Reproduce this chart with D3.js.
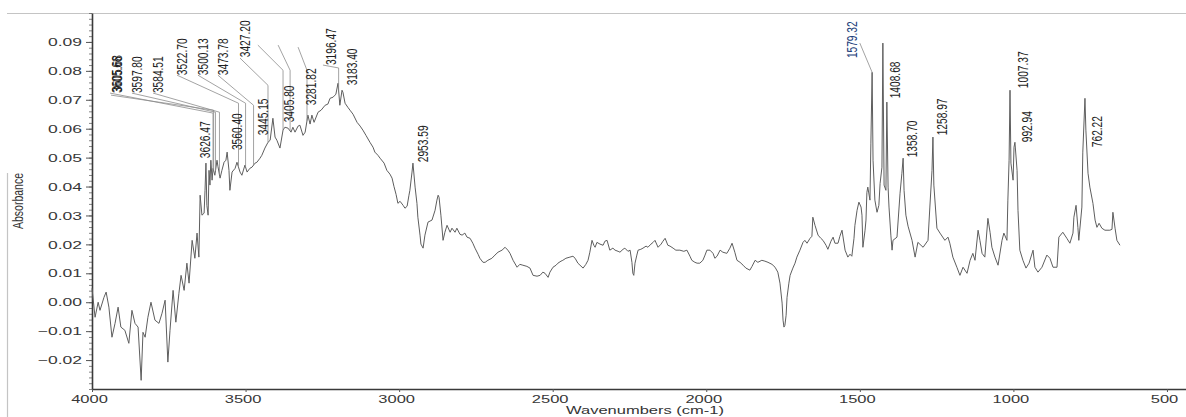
<!DOCTYPE html>
<html>
<head>
<meta charset="utf-8">
<script src="https://cdn.jsdelivr.net/npm/d3@7"></script>
<style>
  html, body { margin: 0; padding: 0; background: #fff; }
  svg { display: block; }
</style>
</head>
<body>
<svg id="chart" width="1186" height="417"></svg>
<script>
// FTIR absorbance spectrum: [wavenumber (cm-1), absorbance]
const spectrum = [
  [4000,0.0048],[3990,-0.0052],[3980,0.0000],[3974,-0.0028],[3961,0.0017],[3954,0.0035],[3945,-0.0017],[3935,-0.0121],[3925,-0.0073],[3915,-0.0017],
  [3906,-0.0086],[3893,-0.0097],[3880,-0.0142],[3870,-0.0028],[3860,-0.0073],[3850,-0.0086],[3840,-0.0270],[3834,-0.0104],[3827,-0.0121],[3818,-0.0052],
  [3808,0.0000],[3795,-0.0062],[3782,-0.0073],[3772,-0.0038],[3762,0.0007],[3753,-0.0207],[3746,-0.0097],[3736,0.0041],[3727,-0.0069],[3717,0.0031],
  [3710,0.0093],[3700,0.0041],[3691,0.0135],[3684,0.0066],[3674,0.0214],[3665,0.0152],[3658,0.0239],[3652,0.0156],[3648,0.0370],[3642,0.0301],
  [3635,0.0308],[3632,0.0387],[3629,0.0481],[3626,0.0335],[3622,0.0301],[3619,0.0456],[3616,0.0405],[3613,0.0491],[3609,0.0422],[3606,0.0463],
  [3600,0.0439],[3593,0.0491],[3590,0.0470],[3583,0.0429],[3577,0.0456],[3570,0.0484],[3564,0.0491],[3560,0.0519],[3554,0.0456],[3551,0.0387],
  [3544,0.0450],[3534,0.0463],[3528,0.0484],[3518,0.0450],[3512,0.0439],[3502,0.0474],[3495,0.0450],[3486,0.0463],[3479,0.0467],[3469,0.0481],
  [3463,0.0484],[3453,0.0498],[3447,0.0508],[3437,0.0533],[3427,0.0553],[3420,0.0560],[3411,0.0636],[3404,0.0571],[3398,0.0560],[3388,0.0533],
  [3378,0.0595],[3372,0.0605],[3362,0.0602],[3352,0.0588],[3346,0.0605],[3339,0.0588],[3329,0.0609],[3323,0.0612],[3313,0.0577],[3306,0.0588],
  [3297,0.0647],[3290,0.0616],[3284,0.0647],[3277,0.0622],[3264,0.0657],[3254,0.0664],[3241,0.0681],[3232,0.0685],[3225,0.0705],[3215,0.0709],
  [3209,0.0716],[3206,0.0719],[3199,0.0757],[3193,0.0681],[3186,0.0733],[3183,0.0726],[3176,0.0688],[3167,0.0674],[3160,0.0664],[3150,0.0650],
  [3137,0.0622],[3127,0.0609],[3118,0.0595],[3108,0.0577],[3095,0.0553],[3085,0.0536],[3079,0.0519],[3069,0.0508],[3062,0.0498],[3049,0.0481],
  [3040,0.0456],[3030,0.0443],[3023,0.0429],[3017,0.0401],[3010,0.0373],[3004,0.0342],[2997,0.0349],[2987,0.0335],[2981,0.0325],[2974,0.0332],
  [2968,0.0370],[2965,0.0387],[2958,0.0450],[2955,0.0481],[2948,0.0398],[2942,0.0342],[2939,0.0294],[2932,0.0232],[2929,0.0201],[2922,0.0187],
  [2916,0.0232],[2906,0.0277],[2893,0.0284],[2883,0.0318],[2877,0.0353],[2873,0.0370],[2870,0.0363],[2864,0.0301],[2857,0.0214],[2851,0.0242],
  [2844,0.0266],[2834,0.0242],[2828,0.0256],[2818,0.0242],[2812,0.0256],[2802,0.0235],[2795,0.0232],[2786,0.0239],[2779,0.0225],[2769,0.0221],
  [2760,0.0204],[2753,0.0187],[2743,0.0166],[2737,0.0152],[2727,0.0138],[2720,0.0138],[2711,0.0145],[2698,0.0152],[2688,0.0163],[2678,0.0173],
  [2665,0.0180],[2655,0.0190],[2646,0.0180],[2639,0.0169],[2629,0.0145],[2616,0.0121],[2607,0.0131],[2597,0.0128],[2584,0.0124],[2574,0.0118],
  [2564,0.0093],[2551,0.0090],[2541,0.0093],[2532,0.0104],[2525,0.0100],[2515,0.0086],[2509,0.0104],[2499,0.0121],[2489,0.0128],[2483,0.0135],
  [2473,0.0142],[2467,0.0145],[2457,0.0152],[2444,0.0156],[2434,0.0159],[2427,0.0152],[2418,0.0135],[2411,0.0128],[2401,0.0118],[2392,0.0131],
  [2385,0.0145],[2379,0.0173],[2372,0.0214],[2366,0.0197],[2362,0.0190],[2356,0.0207],[2346,0.0201],[2336,0.0197],[2330,0.0211],[2323,0.0214],
  [2314,0.0180],[2304,0.0187],[2297,0.0180],[2287,0.0176],[2281,0.0173],[2271,0.0183],[2265,0.0187],[2255,0.0176],[2248,0.0180],[2242,0.0138],
  [2239,0.0100],[2236,0.0093],[2232,0.0135],[2226,0.0163],[2222,0.0180],[2213,0.0183],[2206,0.0187],[2196,0.0194],[2190,0.0190],[2180,0.0201],
  [2173,0.0207],[2167,0.0214],[2157,0.0190],[2147,0.0201],[2141,0.0211],[2134,0.0221],[2125,0.0197],[2118,0.0194],[2108,0.0187],[2099,0.0180],
  [2086,0.0180],[2073,0.0176],[2063,0.0180],[2053,0.0159],[2047,0.0145],[2037,0.0138],[2030,0.0135],[2021,0.0135],[2011,0.0145],[2004,0.0163],
  [1998,0.0180],[1988,0.0180],[1978,0.0169],[1972,0.0152],[1965,0.0159],[1955,0.0180],[1946,0.0173],[1933,0.0169],[1923,0.0187],[1916,0.0204],
  [1907,0.0173],[1900,0.0145],[1890,0.0138],[1880,0.0128],[1871,0.0118],[1858,0.0111],[1851,0.0124],[1841,0.0145],[1832,0.0138],[1819,0.0145],
  [1809,0.0142],[1799,0.0138],[1786,0.0131],[1776,0.0121],[1767,0.0104],[1760,0.0066],[1753,-0.0003],[1750,-0.0062],[1747,-0.0086],[1744,-0.0080],
  [1740,-0.0045],[1737,0.0017],[1731,0.0066],[1727,0.0093],[1718,0.0118],[1711,0.0135],[1705,0.0156],[1695,0.0180],[1685,0.0207],[1679,0.0214],
  [1672,0.0204],[1662,0.0221],[1656,0.0228],[1653,0.0294],[1646,0.0266],[1636,0.0232],[1627,0.0221],[1620,0.0214],[1610,0.0197],[1604,0.0183],
  [1594,0.0211],[1587,0.0225],[1581,0.0204],[1571,0.0204],[1565,0.0228],[1558,0.0249],[1548,0.0180],[1539,0.0156],[1532,0.0166],[1526,0.0159],
  [1519,0.0221],[1516,0.0266],[1509,0.0318],[1503,0.0346],[1496,0.0329],[1493,0.0301],[1490,0.0190],[1483,0.0249],[1480,0.0284],[1477,0.0380],
  [1474,0.0398],[1467,0.0353],[1464,0.0550],[1460,0.0795],[1457,0.0491],[1451,0.0353],[1444,0.0311],[1438,0.0335],[1434,0.0411],[1428,0.0467],
  [1425,0.0896],[1421,0.0405],[1415,0.0387],[1412,0.0692],[1408,0.0398],[1405,0.0329],[1399,0.0232],[1395,0.0180],[1392,0.0214],[1379,0.0225],
  [1369,0.0377],[1363,0.0446],[1359,0.0498],[1356,0.0387],[1350,0.0301],[1343,0.0263],[1330,0.0214],[1320,0.0156],[1311,0.0207],[1294,0.0190],
  [1278,0.0214],[1272,0.0329],[1265,0.0456],[1262,0.0571],[1259,0.0405],[1249,0.0256],[1239,0.0239],[1223,0.0214],[1213,0.0225],[1207,0.0204],
  [1197,0.0156],[1184,0.0121],[1174,0.0093],[1164,0.0121],[1151,0.0100],[1141,0.0145],[1132,0.0169],[1125,0.0145],[1115,0.0249],[1109,0.0214],
  [1102,0.0169],[1093,0.0156],[1083,0.0290],[1076,0.0242],[1070,0.0190],[1060,0.0156],[1050,0.0128],[1037,0.0214],[1031,0.0239],[1021,0.0214],
  [1018,0.0353],[1014,0.0491],[1011,0.0733],[1008,0.0481],[1001,0.0422],[998,0.0536],[995,0.0553],[988,0.0456],[985,0.0318],[979,0.0180],
  [969,0.0145],[959,0.0118],[949,0.0135],[936,0.0180],[930,0.0121],[920,0.0104],[907,0.0121],[891,0.0163],[881,0.0152],[871,0.0121],
  [858,0.0121],[852,0.0225],[839,0.0242],[826,0.0221],[816,0.0204],[806,0.0239],[803,0.0294],[796,0.0335],[790,0.0259],[787,0.0214],
  [777,0.0329],[774,0.0519],[767,0.0705],[764,0.0595],[757,0.0446],[751,0.0398],[741,0.0342],[734,0.0284],[728,0.0259],[721,0.0273],
  [712,0.0256],[702,0.0249],[686,0.0249],[679,0.0252],[676,0.0311],[669,0.0256],[663,0.0214],[653,0.0197]
];

// Axis ticks
const xTickValues = [4000, 3500, 3000, 2500, 2000, 1500, 1000, 500];
const yTickValues = [-0.02, -0.01, 0.00, 0.01, 0.02, 0.03, 0.04, 0.05, 0.06, 0.07, 0.08, 0.09];

// Peak labels: text, and the wavenumber / absorbance where the text starts
const peakText   = ["3605.66","3605.68","3597.80","3584.51","3522.70","3500.13","3473.78","3427.20",
                    "3626.47","3560.40","3445.15","3405.80","3281.82","3196.47","3183.40","2953.59",
                    "1579.32","1408.68","1358.70","1258.97","1007.37","992.94","762.22"];
const peakTextWn = [3919, 3919, 3853, 3785, 3707, 3639, 3573, 3502,
                    3632, 3528, 3443, 3359, 3287, 3222, 3153, 2922,
                    1526, 1386, 1330, 1233, 969, 956, 728];
const peakTextAbs = [0.0723, 0.0727, 0.0723, 0.0723, 0.0785, 0.0785, 0.0785, 0.0847,
                     0.0498, 0.0526, 0.0577, 0.0622, 0.0681, 0.0820, 0.0750, 0.0484,
                     0.0844, 0.0705, 0.0501, 0.0577, 0.0740, 0.0553, 0.0536];

// Leader lines: start point, knee height, and the peak they drop onto
const leaderStartWn  = [3941, 3938, 3870, 3801, 3723, 3655, 3590, 3518, 3460, 3394, 3329, 3248, 1500];
const leaderStartAbs = [0.0723, 0.0716, 0.0723, 0.0723, 0.0785, 0.0785, 0.0785, 0.0844, 0.0889, 0.0889, 0.0882, 0.0820, 0.0896];
const leaderKneeAbs  = [0.0654, 0.0664, 0.0657, 0.0657, 0.0688, 0.0688, 0.0681, 0.0750, 0.0802, 0.0802, 0.0802, 0.0810, 0.0795];
const leaderPeakWn   = [3606, 3604, 3598, 3585, 3523, 3500, 3474, 3427, 3378, 3355, 3300, 3197, 1460];

const svg = d3.select("#chart");
const FONT = "'Liberation Sans', Arial, Helvetica, sans-serif";

const x = d3.scaleLinear().domain([4000, 438]).range([92, 1186]);
const y = d3.scaleLinear().domain([-0.03, 0.1]).range([389, 13]);

// outer frame lines
svg.append("line").attr("x1", 7).attr("x2", 1186).attr("y1", 13.5).attr("y2", 13.5)
  .attr("stroke", "#c4c4c4").attr("stroke-width", 1.2);
svg.append("line").attr("x1", 7.5).attr("x2", 7.5).attr("y1", 173).attr("y2", 417)
  .attr("stroke", "#c4c4c4").attr("stroke-width", 1.2);

// minor y ticks every 0.002
const yMinor = d3.range(0, 66).map(i => +(-0.03 + i * 0.002).toFixed(3));
svg.append("g").attr("transform", "translate(92,0)")
  .call(d3.axisLeft(y).tickValues(yMinor).tickSize(3).tickFormat(""))
  .call(g => g.select(".domain").remove())
  .call(g => g.selectAll(".tick line").attr("stroke", "#666").attr("stroke-width", 0.8));

// y axis
const gy = svg.append("g").attr("transform", "translate(92,0)")
  .call(d3.axisLeft(y).tickValues(yTickValues).tickSize(6).tickSizeOuter(0).tickFormat(d3.format(".2f")));
gy.select(".domain").attr("stroke", "#3a3a3a").attr("stroke-width", 1.6);
gy.selectAll(".tick line").attr("stroke", "#555").attr("stroke-width", 1);
gy.selectAll(".tick text")
  .attr("x", null)
  .attr("transform", "translate(-10,0) scale(1.55,1)")
  .attr("text-anchor", "end")
  .attr("fill", "#383838")
  .style("font-family", FONT).style("font-size", "11.3px");

// x axis
const gx = svg.append("g").attr("transform", "translate(0,389)")
  .call(d3.axisBottom(x).tickValues(xTickValues).tickSize(3).tickSizeOuter(0).tickPadding(3).tickFormat(d3.format("d")));
gx.select(".domain").attr("stroke", "#3a3a3a").attr("stroke-width", 1.6);
gx.selectAll(".tick line").attr("stroke", "#555");
gx.selectAll(".tick text")
  .attr("y", 6)
  .attr("transform", "translate(-3,0) scale(1.5,1)")
  .attr("fill", "#383838")
  .style("font-family", FONT).style("font-size", "11px");

// axis titles
svg.append("text")
  .attr("transform", "translate(18,201) scale(1.45,1) rotate(-90)")
  .attr("text-anchor", "middle").attr("dy", "0.35em")
  .attr("fill", "#333").style("font-family", FONT).style("font-size", "10.5px")
  .text("Absorbance");
svg.append("text")
  .attr("transform", "translate(645,414) scale(1.5,1)")
  .attr("text-anchor", "middle")
  .attr("fill", "#333").style("font-family", FONT).style("font-size", "11px")
  .text("Wavenumbers (cm-1)");

// spectrum trace
const line = d3.line().x(d => x(d[0])).y(d => y(d[1]));
svg.append("path").datum(spectrum)
  .attr("d", line)
  .attr("fill", "none")
  .attr("stroke", "#5e5e5e")
  .attr("stroke-width", 1)
  .attr("stroke-linejoin", "round");

// absorbance of the trace at a given wavenumber (linear between samples)
const bis = d3.bisector(d => -d[0]).left;
function absAt(wn) {
  const i = Math.max(1, Math.min(spectrum.length - 1, bis(spectrum, -wn)));
  const a = spectrum[i - 1], b = spectrum[i];
  const t = (wn - a[0]) / (b[0] - a[0]);
  return a[1] + t * (b[1] - a[1]);
}

// leader lines from labels down to their peaks
const leaders = leaderPeakWn.map((p, i) => {
  const pts = [[leaderStartWn[i], leaderStartAbs[i]], [p, leaderKneeAbs[i]]];
  const top = absAt(p);
  if (top < leaderKneeAbs[i]) pts.push([p, top]);
  return pts;
});
svg.append("g").selectAll("path").data(leaders).join("path")
  .attr("d", line)
  .attr("fill", "none")
  .attr("stroke", "#8c8c8c")
  .attr("stroke-width", 0.8);

// peak labels (rotated)
svg.append("g").selectAll("text").data(peakText).join("text")
  .attr("transform", (d, i) => `translate(${x(peakTextWn[i])},${y(peakTextAbs[i])}) scale(1.4,1) rotate(-90)`)
  .attr("dy", "0.35em")
  .attr("text-anchor", "start")
  .attr("fill", d => d === "1579.32" ? "#22407a" : "#1e1e1e")
  .style("font-family", FONT).style("font-size", "10.2px")
  .text(d => d);
</script>
</body>
</html>
